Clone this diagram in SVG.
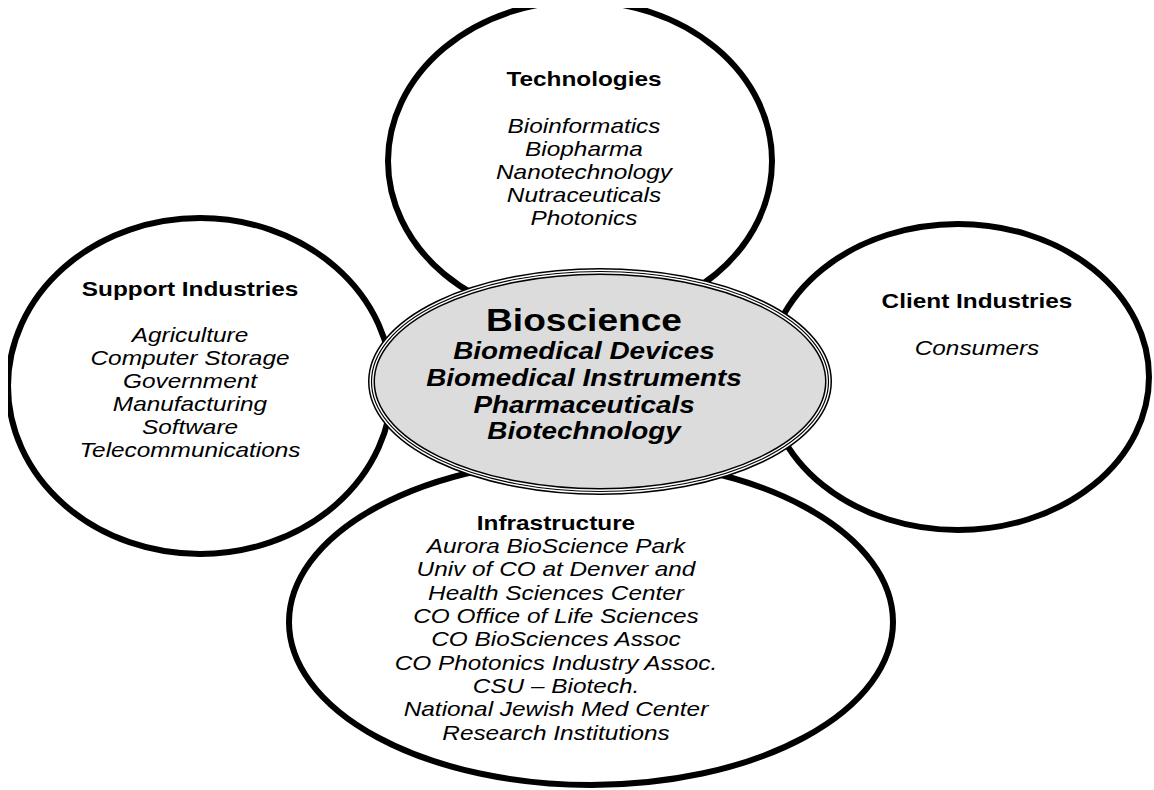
<svg xmlns="http://www.w3.org/2000/svg" width="1154" height="790" viewBox="0 0 1154 790">
<style>
.ring{fill:#fff;stroke:#000;stroke-width:6}
.h{font-family:"Liberation Sans",Arial,sans-serif;font-weight:bold;font-size:21px;text-anchor:middle;fill:#000}
.i{font-family:"Liberation Sans",Arial,sans-serif;font-style:italic;font-size:21px;text-anchor:middle;fill:#000}
.bt{font-family:"Liberation Sans",Arial,sans-serif;font-weight:bold;font-size:32px;text-anchor:middle;fill:#000}
.bi{font-family:"Liberation Sans",Arial,sans-serif;font-weight:bold;font-style:italic;font-size:24px;text-anchor:middle;fill:#000}
</style>
<defs>
<clipPath id="frame"><rect x="8" y="8" width="1146" height="782"/></clipPath>
</defs>
<rect width="1154" height="790" fill="#fff"/>
<g id="connectors"></g>
<g clip-path="url(#frame)">
<g id="technologies">
<ellipse class="ring" cx="580" cy="161" rx="192" ry="160"/>
<g transform="translate(584,0) scale(1.16,1)">
<text class="h" x="0" y="86">Technologies</text>
<text class="i" x="0" y="133">Bioinformatics</text>
<text class="i" x="0" y="156">Biopharma</text>
<text class="i" x="0" y="179">Nanotechnology</text>
<text class="i" x="0" y="202">Nutraceuticals</text>
<text class="i" x="0" y="225">Photonics</text>
</g>
</g>
<g id="support">
<ellipse class="ring" cx="200" cy="386" rx="192" ry="168"/>
<g transform="translate(190,0) scale(1.16,1)">
<text class="h" x="0" y="296">Support Industries</text>
<text class="i" x="0" y="342">Agriculture</text>
<text class="i" x="0" y="365">Computer Storage</text>
<text class="i" x="0" y="388">Government</text>
<text class="i" x="0" y="411">Manufacturing</text>
<text class="i" x="0" y="434">Software</text>
<text class="i" x="0" y="457">Telecommunications</text>
</g>
</g>
<g id="client">
<ellipse class="ring" cx="958" cy="377" rx="191" ry="153"/>
<g transform="translate(977,0) scale(1.16,1)">
<text class="h" x="0" y="308">Client Industries</text>
<text class="i" x="0" y="355">Consumers</text>
</g>
</g>
<g id="infrastructure">
<ellipse class="ring" cx="591" cy="622" rx="302" ry="163"/>
<g transform="translate(556,0) scale(1.16,1)">
<text class="h" x="0" y="530">Infrastructure</text>
<text class="i" x="0" y="553">Aurora BioScience Park</text>
<text class="i" x="0" y="576.5">Univ of CO at Denver and</text>
<text class="i" x="0" y="600">Health Sciences Center</text>
<text class="i" x="0" y="623">CO Office of Life Sciences</text>
<text class="i" x="0" y="646.5">CO BioSciences Assoc</text>
<text class="i" x="0" y="670">CO Photonics Industry Assoc.</text>
<text class="i" x="0" y="693">CSU – Biotech.</text>
<text class="i" x="0" y="716.5">National Jewish Med Center</text>
<text class="i" x="0" y="740">Research Institutions</text>
</g>
</g>
<g id="bioscience">
<ellipse cx="600" cy="381.5" rx="228.5" ry="110" fill="#dcdcdc" stroke="#000" stroke-width="7"/>
<ellipse cx="600" cy="381.5" rx="228.5" ry="110" fill="none" stroke="#fff" stroke-width="4"/>
<ellipse cx="600" cy="381.5" rx="228.5" ry="110" fill="none" stroke="#000" stroke-width="1.2"/>
<g transform="translate(584,0) scale(1.16,1)">
<text class="bt" x="0" y="331">Bioscience</text>
<text class="bi" x="0" y="359">Biomedical Devices</text>
<text class="bi" x="0" y="386">Biomedical Instruments</text>
<text class="bi" x="0" y="413">Pharmaceuticals</text>
<text class="bi" x="0" y="439">Biotechnology</text>
</g>
</g>
</g>
</svg>
